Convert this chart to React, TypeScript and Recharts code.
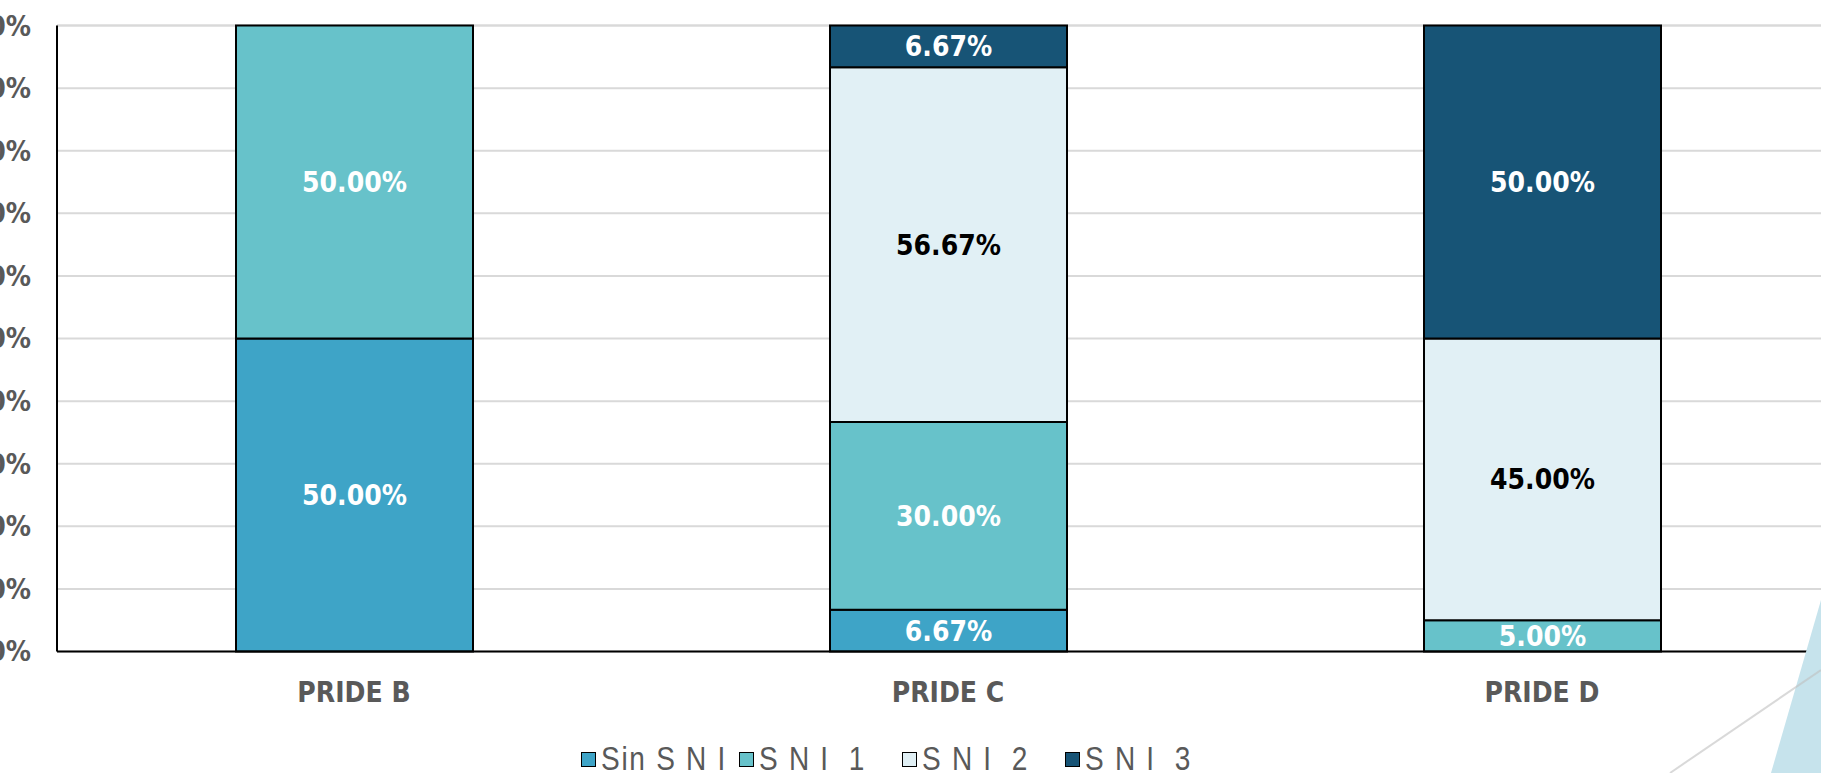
import { Bar, BarChart, CartesianGrid, LabelList, XAxis, YAxis } from "recharts";

const categories = ["PRIDE B", "PRIDE C", "PRIDE D"];
const sinSni = [50, 6.67, 0];
const sni1 = [50, 30, 5];
const sni2 = [0, 56.67, 45];
const sni3 = [0, 6.67, 50];
const yTicks = [0, 10, 20, 30, 40, 50, 60, 70, 80, 90, 100];

const series = [
  { key: "sinSni", name: "Sin S N I", fill: "#3EA4C7", label: "#FFFFFF" },
  { key: "sni1", name: "S N I  1", fill: "#67C2CA", label: "#FFFFFF" },
  { key: "sni2", name: "S N I  2", fill: "#E1F0F5", label: "#000000" },
  { key: "sni3", name: "S N I  3", fill: "#175476", label: "#FFFFFF" },
];

const data = categories.map((name, i) => ({
  name,
  sinSni: sinSni[i],
  sni1: sni1[i],
  sni2: sni2[i],
  sni3: sni3[i],
}));

const FONT = "'DejaVu Sans Condensed', 'DejaVu Sans', sans-serif";
const GREY = "#595959";

const fmt = (v: any) => (v ? `${Number(v).toFixed(2)}%` : "");

// legend item x positions (page px)
const legendX = [581, 739, 902, 1065];

export default function App() {
  return (
    <div
      style={{
        position: "fixed",
        left: 0,
        top: 0,
        width: 1821,
        height: 773,
        overflow: "hidden",
        background: "#fff",
      }}>
      <div style={{ position: "absolute", left: -60, top: 0 }}>
        <BarChart
          width={1899}
          height={773}
          data={data}
          barSize={237}
          margin={{ top: 25.5, right: 0, left: 0, bottom: 61.5 }}>
          <CartesianGrid vertical={false} stroke="#D9D9D9" strokeWidth={2} />
          <XAxis
            dataKey="name"
            height={60}
            tickSize={0}
            tickMargin={31}
            axisLine={{ stroke: "#000", strokeWidth: 2 }}
            tick={{ fill: GREY, fontSize: 28, fontWeight: 700, fontFamily: FONT }}
          />
          <YAxis
            width={117}
            domain={[0, 100]}
            ticks={yTicks}
            interval={0}
            tickSize={0}
            tickMargin={26}
            tickFormatter={(v) => `${v}%`}
            axisLine={{ stroke: "#000", strokeWidth: 2 }}
            tick={{ fill: GREY, fontSize: 28, fontWeight: 700, fontFamily: FONT }}
          />
          {series.map((s) => (
            <Bar
              key={s.key}
              dataKey={s.key}
              stackId="a"
              fill={s.fill}
              stroke="#000"
              strokeWidth={2}
              isAnimationActive={false}>
              <LabelList
                dataKey={s.key}
                position="center"
                formatter={fmt}
                fill={s.label}
                style={{ fontSize: 28, fontWeight: 700, fontFamily: FONT }}
              />
            </Bar>
          ))}
        </BarChart>
      </div>

      {series.map((s, i) => (
        <div
          key={s.key}
          style={{
            position: "absolute",
            left: legendX[i],
            top: 741,
            height: 36,
            display: "flex",
            alignItems: "center",
            whiteSpace: "pre",
          }}>
          <div
            style={{
              width: 13,
              height: 13,
              background: s.fill,
              border: "1.5px solid #000",
              marginRight: 5,
              flex: "none",
            }}
          />
          <span
            style={{
              display: "inline-block",
              fontFamily: "'Liberation Sans', sans-serif",
              fontSize: 33,
              letterSpacing: 2,
              color: GREY,
              lineHeight: "36px",
              transform: "scaleX(0.85)",
              transformOrigin: "left center",
            }}>
            {s.name}
          </span>
        </div>
      ))}

      <svg
        width={1821}
        height={773}
        style={{ position: "absolute", left: 0, top: 0, pointerEvents: "none" }}>
        <polygon points="1821,600 1771,773 1821,773" fill="#C6E3EC" />
        <line x1={1670} y1={773} x2={1821} y2={670} stroke="#BFBFBF" strokeOpacity={0.6} strokeWidth={2} />
      </svg>
    </div>
  );
}
